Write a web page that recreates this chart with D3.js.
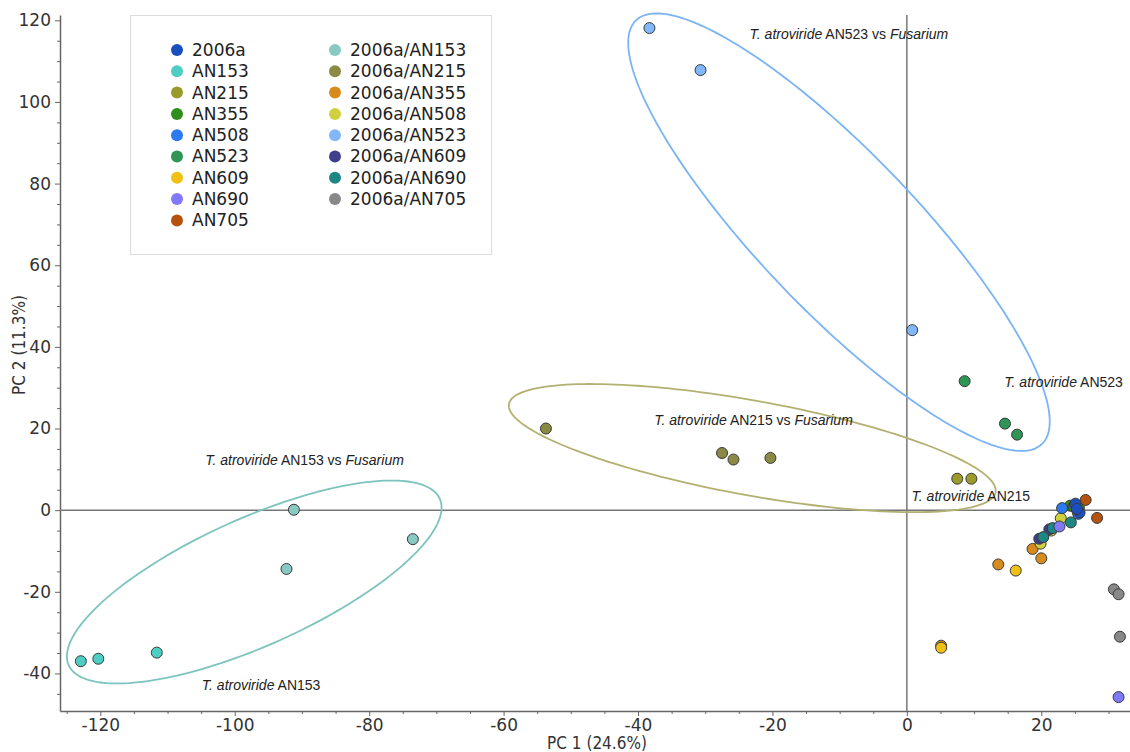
<!DOCTYPE html>
<html>
<head>
<meta charset="utf-8">
<script src="https://cdn.jsdelivr.net/npm/d3@7"></script>
<style>
  body { margin: 0; background: #fff; }
  .tick text { font-family: "DejaVu Sans", Verdana, sans-serif; font-size: 17px; fill: #333; }
  .axis path, .axis line { stroke: #666; }
  .annot { font-family: "Liberation Sans", Arial, sans-serif; font-size: 14px; fill: #222; }
  .legend text { font-family: "DejaVu Sans", Verdana, sans-serif; font-size: 17px; fill: #222; }
  .title { font-family: "DejaVu Sans Condensed", "DejaVu Sans", sans-serif; font-size: 17px; fill: #333; }
</style>
</head>
<body>
<div id="chart"></div>
<script>
const width = 1130;
const height = 752;
const margin = {top: 15, right: 0, bottom: 41, left: 60};

// groups, legend order
const groups = ['2006a', 'AN153', 'AN215', 'AN355', 'AN508', 'AN523', 'AN609', 'AN690', 'AN705',
  '2006a/AN153', '2006a/AN215', '2006a/AN355', '2006a/AN508', '2006a/AN523', '2006a/AN609',
  '2006a/AN690', '2006a/AN705'];

const groupColors = ['#1a4fbf', '#4ecdc4', '#9b9b2b', '#2f8f1a', '#2b7bf0', '#2e9556', '#f2c014',
  '#8079fb', '#b5530e', '#88c9c1', '#8a8a45', '#d68b1c', '#cfd23e', '#80b8fb', '#403f8c',
  '#1e8784', '#888888'];

// PCA scores [group, PC1, PC2]
const scores = [
  ['2006a/AN153', -91.2, 0.1], ['2006a/AN153', -92.3, -14.4], ['2006a/AN153', -73.5, -7.1],
  ['2006a/AN215', -53.7, 20.0], ['2006a/AN215', -27.5, 14.0], ['2006a/AN215', -25.8, 12.4], ['2006a/AN215', -20.3, 12.8],
  ['2006a/AN355', 13.6, -13.3], ['2006a/AN355', 18.7, -9.5], ['2006a/AN355', 20.0, -11.8], ['2006a/AN355', 5.1, -33.2],
  ['2006a/AN508', 19.9, -8.2], ['2006a/AN508', 21.5, -5.0], ['2006a/AN508', 22.9, -2.0],
  ['2006a/AN523', -38.3, 118.1], ['2006a/AN523', -30.7, 107.8], ['2006a/AN523', 0.8, 44.1],
  ['2006a/AN609', 19.7, -7.0], ['2006a/AN609', 21.2, -4.7], ['2006a/AN609', 25.4, -0.2],
  ['2006a/AN690', 20.3, -6.6], ['2006a/AN690', 21.7, -4.4], ['2006a/AN690', 24.4, -3.0],
  ['2006a/AN705', 30.8, -19.4], ['2006a/AN705', 31.5, -20.6], ['2006a/AN705', 31.7, -31.0],
  ['AN153', -122.9, -37.0], ['AN153', -120.3, -36.4], ['AN153', -111.6, -34.9],
  ['AN215', 7.5, 7.7], ['AN215', 9.6, 7.7],
  ['AN355', 24.3, 1.1], ['AN355', 25.6, 0.6], ['AN355', 24.8, 0.9],
  ['AN508', 23.1, 0.5], ['AN508', 25.5, -0.9], ['AN508', 25.0, 1.3],
  ['AN523', 8.6, 31.6], ['AN523', 14.6, 21.2], ['AN523', 16.4, 18.5],
  ['AN609', 16.2, -14.8], ['AN609', 5.1, -33.7],
  ['AN690', 22.7, -4.0], ['AN690', 31.5, -45.8],
  ['AN705', 26.6, 2.5], ['AN705', 28.3, -1.9],
  ['2006a', 25.1, 1.6], ['2006a', 25.7, -0.6], ['2006a', 25.3, 0.3]
];

// confidence ellipses: centre, first and second semi-axis vectors (PC units)
const ellipseGroups = ['AN153', 'AN215', 'AN523'];
const ellipseColors = ['#7cc4bd', '#b3b071', '#7ab4f5'];
const ellipseCentres = [[-97.1, -17.6], [-23.0, 15.2], [-10.1, 68.1]];
const ellipseAxisU = [[27.6, 20.4], [36.2, -10.8], [30.2, -51.9]];
const ellipseAxisV = [[3.9, -14.2], [-1.25, -11.4], [-8.45, -13.35]];

// annotations: [italic part, plain part, italic tail, PC1, PC2]
const annotations = [
  ['T. atroviride', ' AN523 vs ', 'Fusarium', -23.4, 115.4],
  ['T. atroviride', ' AN523', '', 14.5, 30.2],
  ['T. atroviride', ' AN215 vs ', 'Fusarium', -37.6, 20.8],
  ['T. atroviride', ' AN215', '', 0.7, 2.2],
  ['T. atroviride', ' AN153 vs ', 'Fusarium', -104.4, 11.0],
  ['T. atroviride', ' AN153', '', -104.9, -44.1]
];

const xTicks = [-120, -100, -80, -60, -40, -20, 0, 20];
const yTicks = [-40, -20, 0, 20, 40, 60, 80, 100, 120];

const innerW = width - margin.left - margin.right;
const innerH = height - margin.top - margin.bottom;

const x = d3.scaleLinear().domain([-126, 33.2]).range([0, innerW]);
const y = d3.scaleLinear().domain([-49.2, 121.3]).range([innerH, 0]);
const color = d3.scaleOrdinal().domain(groups).range(groupColors);

const svg = d3.select('#chart').append('svg')
    .attr('width', width)
    .attr('height', height);

const g = svg.append('g')
    .attr('transform', `translate(${margin.left}, ${margin.top})`);

// minor ticks
g.append('g')
    .attr('class', 'axis')
    .attr('transform', `translate(0, ${innerH})`)
    .call(d3.axisBottom(x).tickValues(d3.range(-125, 35, 5).filter(v => v % 20 !== 0))
      .tickSize(3).tickSizeOuter(0).tickFormat(''))
    .call(a => a.select('.domain').remove());

g.append('g')
    .attr('class', 'axis')
    .call(d3.axisLeft(y).tickValues(d3.range(-45, 125, 5).filter(v => v % 20 !== 0))
      .tickSize(3).tickSizeOuter(0).tickFormat(''))
    .call(a => a.select('.domain').remove());

g.append('g')
    .attr('class', 'axis')
    .attr('transform', `translate(0, ${innerH})`)
    .call(d3.axisBottom(x).tickValues(xTicks).tickSize(5).tickSizeOuter(0).tickPadding(3)
      .tickFormat(d => d))
    .call(a => a.select('.domain').attr('stroke-width', 1.5));

g.append('g')
    .attr('class', 'axis')
    .call(d3.axisLeft(y).tickValues(yTicks).tickSize(5).tickSizeOuter(0).tickPadding(4)
      .tickFormat(d => d))
    .call(a => a.select('.domain').attr('stroke-width', 1.5));

// zero lines
g.append('line')
    .attr('x1', 0).attr('x2', innerW)
    .attr('y1', y(0)).attr('y2', y(0))
    .attr('stroke', '#777').attr('stroke-width', 1.5);

g.append('line')
    .attr('x1', x(0)).attr('x2', x(0))
    .attr('y1', 0).attr('y2', innerH)
    .attr('stroke', '#777').attr('stroke-width', 1.5);

// ellipses
const ellipseLine = d3.line()
    .x(d => x(d[0]))
    .y(d => y(d[1]))
    .curve(d3.curveLinearClosed);

ellipseGroups.forEach(function (grp, i) {
  const c = ellipseCentres[i], u = ellipseAxisU[i], v = ellipseAxisV[i];
  const pts = d3.range(0, 2 * Math.PI, Math.PI / 90).map(t => [
    c[0] + u[0] * Math.cos(t) + v[0] * Math.sin(t),
    c[1] + u[1] * Math.cos(t) + v[1] * Math.sin(t)
  ]);
  g.append('path')
      .attr('d', ellipseLine(pts))
      .attr('fill', 'none')
      .attr('stroke', ellipseColors[i])
      .attr('stroke-width', 1.8);
});

// points
g.selectAll('.score')
  .data(scores)
  .enter()
  .append('circle')
    .attr('class', 'score')
    .attr('cx', d => x(d[1]))
    .attr('cy', d => y(d[2]))
    .attr('r', 5.5)
    .attr('fill', d => color(d[0]))
    .attr('stroke', '#3a3a3a')
    .attr('stroke-width', 1);

// annotations
const annot = g.selectAll('.annot')
  .data(annotations)
  .enter()
  .append('text')
    .attr('class', 'annot')
    .attr('x', d => x(d[3]))
    .attr('y', d => y(d[4]));
annot.append('tspan').attr('font-style', 'italic').text(d => d[0]);
annot.append('tspan').text(d => d[1]);
annot.append('tspan').attr('font-style', 'italic').text(d => d[2]);

// axis titles
svg.append('text')
    .attr('class', 'title')
    .attr('text-anchor', 'middle')
    .attr('x', 597)
    .attr('y', 749)
    .text('PC 1 (24.6%)');

svg.append('text')
    .attr('class', 'title')
    .attr('text-anchor', 'middle')
    .attr('transform', 'translate(25, 345) rotate(-90)')
    .text('PC 2 (11.3%)');

// legend
const legend = svg.append('g').attr('class', 'legend');
legend.append('rect')
    .attr('x', 130.5).attr('y', 15.5)
    .attr('width', 361).attr('height', 239)
    .attr('fill', '#fff')
    .attr('stroke', '#dcdcdc');

const rows = 9;
const items = legend.selectAll('.item')
  .data(groups)
  .enter()
  .append('g')
    .attr('class', 'item')
    .attr('transform', (d, i) => `translate(${i < rows ? 177 : 335}, ${50 + (i % rows) * 21.3})`);
items.append('circle').attr('r', 6).attr('fill', d => color(d));
items.append('text').attr('x', 15).attr('dy', '0.35em').text(d => d);
</script>
</body>
</html>
